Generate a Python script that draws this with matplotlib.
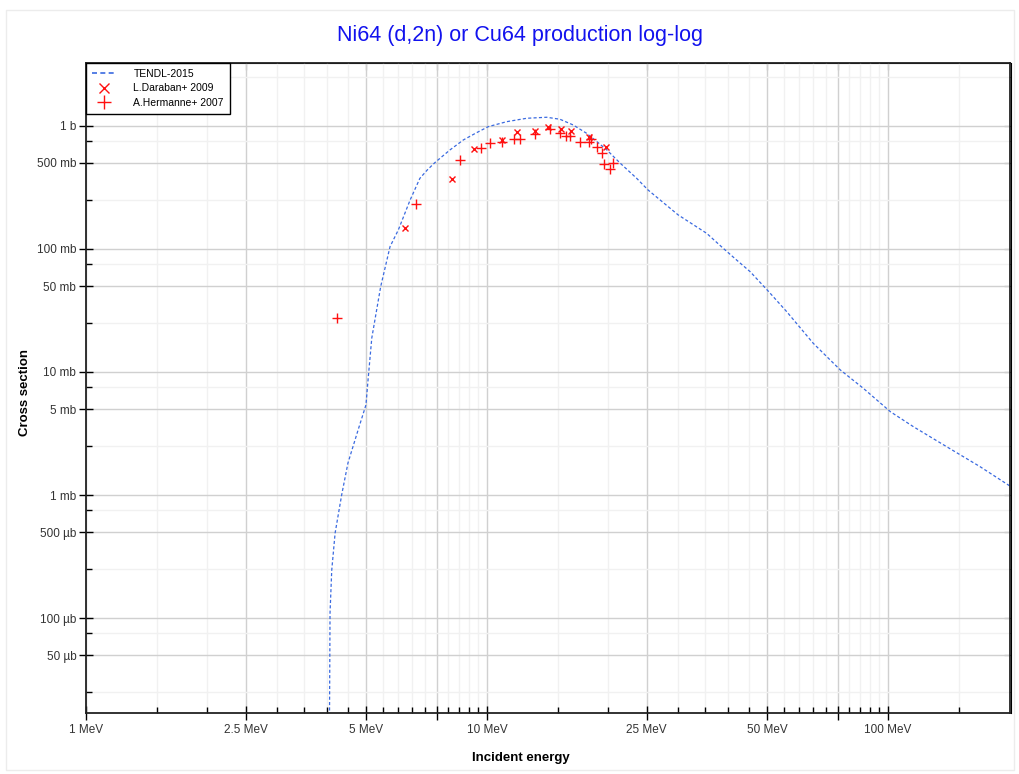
import numpy as np
import matplotlib
matplotlib.use('Agg')
import matplotlib.pyplot as plt
from matplotlib.ticker import FixedLocator, FuncFormatter, NullFormatter
from matplotlib.lines import Line2D
from matplotlib.patches import Rectangle

plt.rcParams['font.family'] = ['Liberation Sans', 'DejaVu Sans']

# TENDL-2015 evaluation (energy in MeV, cross section in barn)
tendl_e = [4.03, 4.06, 4.10, 4.18, 4.34, 4.50, 4.77, 4.99, 5.05, 5.16, 5.43, 5.73,
           6.01, 6.43, 6.80, 7.1, 7.42, 8.08, 8.73, 9.42, 10.07, 11.2, 12.56, 14.09,
           15.2, 16.4, 17.7, 18.8, 19.9, 21.5, 23.6, 25.2, 29.98, 35.3, 38.8, 41.9,
           45.3, 50.4, 55.9, 65.1, 76.0, 86.8, 101.4, 115.7, 140.0, 169.6, 202.4]
tendl_xs = [1e-6, 1.1e-4, 2.45e-4, 4.9e-4, 1.0e-3, 1.82e-3, 3.38e-3, 5.4e-3, 8.6e-3,
            0.0189, 0.0494, 0.1045, 0.143, 0.25, 0.375, 0.44, 0.505, 0.638, 0.77, 0.882,
            0.987, 1.084, 1.155, 1.177, 1.134, 1.019, 0.873, 0.745, 0.638, 0.497,
            0.376, 0.302, 0.189, 0.134, 0.1014, 0.0814, 0.0654, 0.045, 0.0309,
            0.0171, 0.0104, 0.00736, 0.00475, 0.00359, 0.00247, 0.0017, 0.00117]

# L.Daraban+ 2009
daraban_e = [6.25, 8.17, 9.26, 10.88, 11.9, 13.2, 14.2, 15.3, 16.2, 18.0, 19.8]
daraban_xs = [0.149, 0.371, 0.654, 0.77, 0.899, 0.91, 0.976, 0.94, 0.916, 0.818, 0.679]

# A.Hermanne+ 2007
hermanne_e = [4.22, 6.65, 8.57, 9.68, 10.17, 10.88, 11.67, 12.09, 13.18, 14.36, 15.2,
              15.7, 16.1, 17.06, 18.0, 18.2, 18.8, 19.4, 19.6, 20.3, 20.65]
hermanne_xs = [0.0276, 0.232, 0.529, 0.667, 0.723, 0.737, 0.789, 0.78, 0.861, 0.94,
               0.872, 0.83, 0.83, 0.745, 0.737, 0.78, 0.679, 0.607, 0.491, 0.447, 0.503]

x_major = [1, 2.5, 5, 7.5, 10, 25, 50, 75, 100]
x_labels = {1: '1 MeV', 2.5: '2.5 MeV', 5: '5 MeV', 10: '10 MeV', 25: '25 MeV',
            50: '50 MeV', 100: '100 MeV'}
x_minor = [1.5, 2, 3, 3.5, 4, 4.5, 5.5, 6, 6.5, 7, 8, 8.5, 9, 9.5, 15, 20,
           30, 35, 40, 45, 55, 60, 65, 70, 80, 85, 90, 95, 150]
y_major = [5e-5, 1e-4, 5e-4, 1e-3, 5e-3, 1e-2, 5e-2, 0.1, 0.5, 1]
y_labels = ['50 µb', '100 µb', '500 µb', '1 mb', '5 mb', '10 mb', '50 mb',
            '100 mb', '500 mb', '1 b']
y_minor = [k * 10.0 ** d for d in range(-5, 1) for k in (2.5, 7.5)]

W, H = 1020, 774
fig = plt.figure(figsize=(W / 100, H / 100), dpi=100)
ax = fig.add_axes([86 / W, 1 - 713 / H, (1010.5 - 86) / W, (713 - 63) / H])
ax.set_xscale('log')
ax.set_yscale('log')

ax.plot(tendl_e, tendl_xs, color='#3a6ae0', lw=0.9, ls=(0, (2.5, 1.8)))
ax.plot(daraban_e, daraban_xs, 'x', color='#ff1010', ms=4.5, mew=1.0, ls='none')
ax.plot(hermanne_e, hermanne_xs, '+', color='#ff1010', ms=7, mew=1.0, ls='none')

ax.set_xlim(1, 202)
ax.set_ylim(1.69e-5, 3.25)

ax.xaxis.set_major_locator(FixedLocator(x_major))
ax.xaxis.set_major_formatter(FuncFormatter(lambda v, p: x_labels.get(round(v, 3), '')))
ax.xaxis.set_minor_locator(FixedLocator(x_minor))
ax.xaxis.set_minor_formatter(NullFormatter())
ax.yaxis.set_major_locator(FixedLocator(y_major))
ax.yaxis.set_major_formatter(FuncFormatter(lambda v, p: y_labels[int(np.argmin(np.abs(np.log10(y_major) - np.log10(v))))]))
ax.yaxis.set_minor_locator(FixedLocator(y_minor))
ax.yaxis.set_minor_formatter(NullFormatter())

ax.grid(True, which='major', color='#d0d0d0', lw=1.0)
ax.grid(True, which='minor', color='#f1f1f1', lw=1.0)
ax.set_axisbelow(True)

ax.tick_params(which='major', direction='inout', length=10, width=1.0,
               labelsize=8.5, labelcolor='#333333', pad=2)
ax.tick_params(which='minor', direction='in', length=4, width=1.0)
ax.tick_params(axis='x', which='major', pad=3)
for s in ax.spines.values():
    s.set_linewidth(1.3)
    s.set_color('#222222')

# inward ticks on top and right
top = ax.secondary_xaxis('top', functions=(lambda v: v, lambda v: v))
top.set_xticks(x_major)
top.xaxis.set_minor_locator(FixedLocator(x_minor))
top.tick_params(which='both', direction='in', labeltop=False)
top.tick_params(which='major', length=5)
top.tick_params(which='minor', length=3)
right = ax.secondary_yaxis('right', functions=(lambda v: v, lambda v: v))
right.set_yticks(y_major)
right.yaxis.set_minor_locator(FixedLocator(y_minor))
right.tick_params(which='both', direction='in', labelright=False)
right.tick_params(which='major', length=5)
right.tick_params(which='minor', length=3)

handles = [Line2D([], [], color='#3a6ae0', lw=1.2, ls=(0, (3, 2))),
           Line2D([], [], color='#ff1010', marker='x', ms=7, mew=1.0, ls='none'),
           Line2D([], [], color='#ff1010', marker='+', ms=10, mew=1.0, ls='none')]
leg = ax.legend(handles, ['TENDL-2015', 'L.Daraban+ 2009', 'A.Hermanne+ 2007'],
                loc='upper left', bbox_to_anchor=(0, 1), borderaxespad=0,
                fancybox=False, edgecolor='black', framealpha=1, fontsize=7.5,
                handlelength=2.4, labelspacing=0.45, borderpad=0.55, handletextpad=1.6)
leg.get_frame().set_linewidth(1.0)

fig.text(520 / W, 1 - 36 / H, 'Ni64 (d,2n) or Cu64 production log-log',
         ha='center', va='center', color='#1212ee', fontsize=15.5)
fig.text(521 / W, 1 - 758 / H, 'Incident energy', ha='center', va='center',
         fontsize=9.5, fontweight='bold')
fig.text(25 / W, 1 - 393 / H, 'Cross section', ha='center', va='center',
         rotation=90, fontsize=9.5, fontweight='bold')

fig.patches.append(Rectangle((6 / W, 4 / H), 1 - 12 / W, 1 - 14 / H, transform=fig.transFigure,
                             fill=False, ec='#ececec', lw=1))

fig.savefig('out.png', dpi=100)
